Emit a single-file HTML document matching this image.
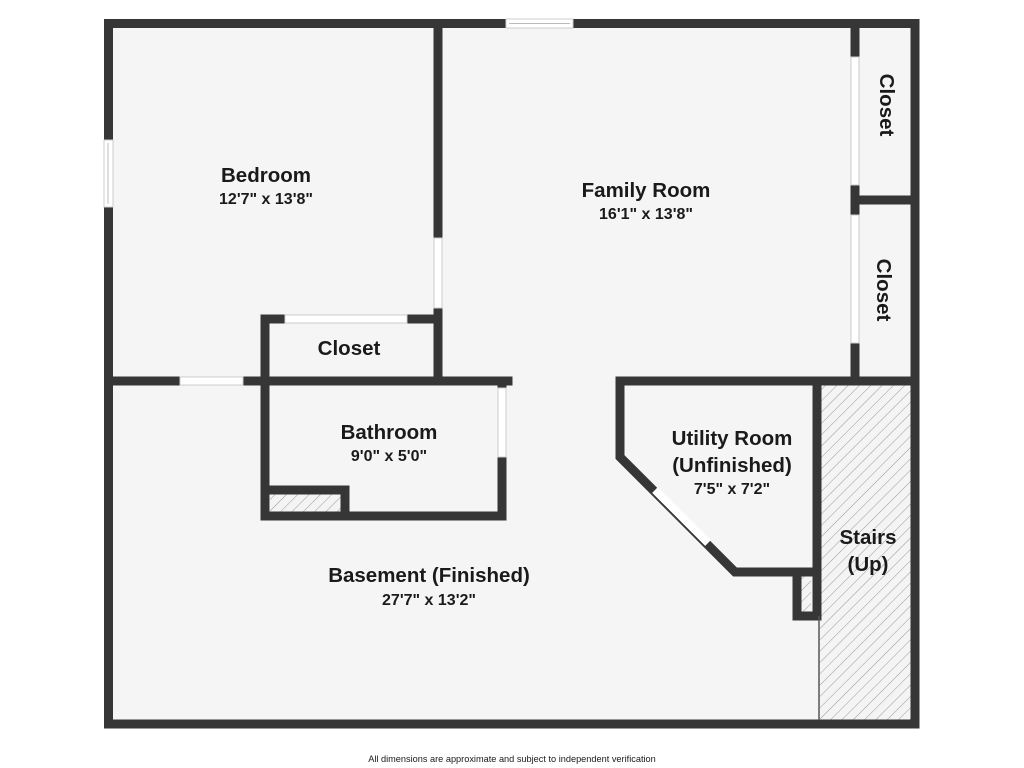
<!DOCTYPE html>
<html><head><meta charset="utf-8"><style>
html,body{margin:0;padding:0;background:#fff;width:1024px;height:768px;overflow:hidden}
svg{display:block}
text{font-family:"Liberation Sans",sans-serif;fill:#1a1a1a;text-anchor:middle}
.t{font-size:20.5px;font-weight:bold}
.d{font-size:16px;font-weight:bold}
</style></head><body>
<svg width="1024" height="768" viewBox="0 0 1024 768">
<defs>
<pattern id="h" width="8" height="8" patternUnits="userSpaceOnUse" patternTransform="rotate(45)">
<rect width="8" height="8" fill="#f4f4f4"/><line x1="0" y1="0" x2="0" y2="8" stroke="#999" stroke-width="1"/>
</pattern>
</defs>
<rect x="108" y="23" width="807" height="701" fill="#f5f5f5"/>
<rect x="820" y="385" width="91" height="335" fill="url(#h)"/>
<rect x="270" y="494" width="74" height="18" fill="url(#h)"/>
<rect x="799" y="576" width="12" height="38" fill="url(#h)"/>
<g stroke="#363636" stroke-width="9" fill="none" stroke-linecap="square">
<polyline points="108.5,23.5 915,23.5 915,724 108.5,724 108.5,23.5"/>
<line x1="438" y1="23.5" x2="438" y2="381"/>
<line x1="108.5" y1="381" x2="508" y2="381"/>
<line x1="265" y1="319" x2="265" y2="516"/>
<line x1="265" y1="319" x2="438" y2="319"/>
<polyline points="502,381 502,516 265,516"/>
<polyline points="265,490 345,490 345,516"/>
<line x1="855" y1="23.5" x2="855" y2="381"/>
<line x1="855" y1="200" x2="915" y2="200"/>
<polyline points="620,381 915,381"/>
<polyline points="620,381 620,457 735,572 817,572"/>
<line x1="817" y1="381" x2="817" y2="616"/>
<polyline points="817,572 797,572 797,616 817,616"/>
</g>
<line x1="819" y1="616" x2="819" y2="720" stroke="#555" stroke-width="1.5"/>
<g fill="#fff" stroke="#ccc" stroke-width="1">
<rect x="180" y="377" width="63" height="8"/>
<rect x="285" y="315" width="122" height="8"/>
<rect x="434" y="238" width="8" height="70"/>
<rect x="498" y="388" width="8" height="69"/>
<rect x="851" y="57" width="8" height="128"/>
<rect x="851" y="215" width="8" height="128"/>
<rect x="104" y="140" width="9" height="67"/>
<rect x="506" y="19" width="67" height="9"/>
</g>
<line x1="655" y1="490" x2="708" y2="543" stroke="#fff" stroke-width="8"/>
<line x1="108" y1="143" x2="108" y2="204" stroke="#bbb" stroke-width="1"/>
<line x1="509" y1="23.5" x2="570" y2="23.5" stroke="#bbb" stroke-width="1"/>
<text class="t" x="266" y="182">Bedroom</text>
<text class="d" x="266" y="204">12'7" x 13'8"</text>
<text class="t" x="646" y="197">Family Room</text>
<text class="d" x="646" y="219">16'1" x 13'8"</text>
<text class="t" x="349" y="355">Closet</text>
<text class="t" x="389" y="439">Bathroom</text>
<text class="d" x="389" y="461">9'0" x 5'0"</text>
<text class="t" x="732" y="445">Utility Room</text>
<text class="t" x="732" y="472">(Unfinished)</text>
<text class="d" x="732" y="494">7'5" x 7'2"</text>
<text class="t" x="868" y="544">Stairs</text>
<text class="t" x="868" y="571">(Up)</text>
<text class="t" x="429" y="582">Basement (Finished)</text>
<text class="d" x="429" y="605">27'7" x 13'2"</text>
<text class="t" transform="translate(880,105) rotate(90)">Closet</text>
<text class="t" transform="translate(877,290) rotate(90)">Closet</text>
<text x="512" y="762" style="font-size:9.2px">All dimensions are approximate and subject to independent verification</text>
</svg>
</body></html>
